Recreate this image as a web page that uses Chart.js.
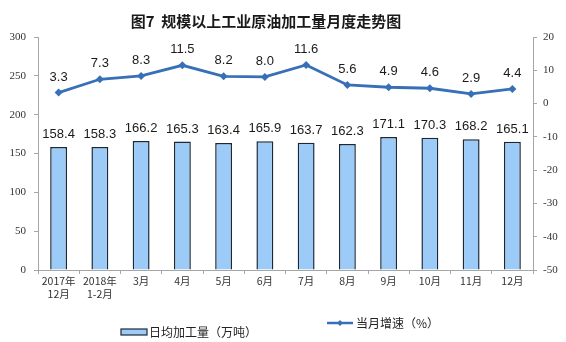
<!DOCTYPE html>
<html>
<head>
<meta charset="utf-8">
<script src="https://cdn.jsdelivr.net/npm/chart.js@4.4.0/dist/chart.umd.min.js"></script>
<style>
  html, body { margin: 0; padding: 0; background: #fff; }
  #wrap { width: 566px; height: 342px; position: relative; }
</style>
</head>
<body>
<div id="wrap"><canvas id="myChart" width="566" height="342"></canvas></div>
<script>
'use strict';

const titleText = '图7  规模以上工业原油加工量月度走势图';
const months = [['2017年', '12月'], ['2018年', '1-2月'], '3月', '4月', '5月', '6月', '7月', '8月', '9月', '10月', '11月', '12月'];
const dailyOutput = [158.4, 158.3, 166.2, 165.3, 163.4, 165.9, 163.7, 162.3, 171.1, 170.3, 168.2, 165.1];
const monthlyGrowth = [3.3, 7.3, 8.3, 11.5, 8.2, 8.0, 11.6, 5.6, 4.9, 4.6, 2.9, 4.4];
const leftTicks = [0, 50, 100, 150, 200, 250, 300];
const rightTicks = [-50, -40, -30, -20, -10, 0, 10, 20];
const barLabel = '日均加工量（万吨）';
const lineLabel = '当月增速（%）';

const barColor = '#9DCBF7',
      barBorder = '#1B2838',
      lineColor = '#3870B8',
      axisColor = '#A6A6A6';

const ctx = document.querySelector('#myChart').getContext('2d');

// title, value labels and the legend drawn by hand
const extras = {
    id: 'extras',
    afterDatasetsDraw(chart) {
        const c = chart.ctx;
        c.save();
        c.fillStyle = '#1a1a1a';
        c.font = '13px "Liberation Sans", Arial, sans-serif';
        c.textAlign = 'center';
        c.textBaseline = 'alphabetic';

        chart.getDatasetMeta(0).data.forEach((bar, i) => {
            c.fillText(dailyOutput[i].toFixed(1), bar.x, bar.y - 9);
        });
        chart.getDatasetMeta(1).data.forEach((pt, i) => {
            c.fillText(monthlyGrowth[i].toFixed(1), pt.x, pt.y - 12);
        });

        // title
        c.font = 'bold 15px "Noto Sans CJK SC", sans-serif';
        c.textBaseline = 'middle';
        c.fillText(titleText, 266, 21);

        // legend: bar
        c.textAlign = 'left';
        c.font = '12px "Noto Sans CJK SC", sans-serif';
        c.fillStyle = barColor;
        c.fillRect(121, 329, 26, 6);
        c.strokeStyle = barBorder;
        c.lineWidth = 1.2;
        c.strokeRect(121, 329, 26, 6);
        c.fillStyle = '#222';
        c.fillText(barLabel, 149, 332);

        // legend: line
        c.strokeStyle = lineColor;
        c.lineWidth = 2.5;
        c.beginPath();
        c.moveTo(327, 323);
        c.lineTo(353, 323);
        c.stroke();
        c.fillStyle = lineColor;
        c.beginPath();
        c.moveTo(340, 320); c.lineTo(343, 323); c.lineTo(340, 326); c.lineTo(337, 323);
        c.closePath();
        c.fill();
        c.fillStyle = '#222';
        c.fillText(lineLabel, 356, 323);
        c.restore();
    }
};

var myChart = new Chart(ctx, {
    type: 'bar',
    data: {
        labels: months,
        datasets: [{
            type: 'bar',
            label: barLabel,
            data: dailyOutput,
            backgroundColor: barColor,
            borderColor: barBorder,
            borderWidth: 1.5,
            barPercentage: 0.41,
            categoryPercentage: 1,
            yAxisID: 'y',
            order: 2
        }, {
            type: 'line',
            label: lineLabel,
            data: monthlyGrowth,
            borderColor: lineColor,
            backgroundColor: lineColor,
            borderWidth: 2.8,
            pointStyle: 'rectRot',
            pointRadius: 4,
            pointBackgroundColor: lineColor,
            pointBorderWidth: 0,
            tension: 0,
            yAxisID: 'y2',
            order: 1
        }]
    },
    options: {
        responsive: false,
        animation: false,
        layout: { padding: { top: 37, bottom: 36, left: 0, right: 0 } },
        plugins: {
            legend: { display: false },
            title: { display: false },
            tooltip: { enabled: false }
        },
        scales: {
            x: {
                offset: true,
                grid: { display: true, drawOnChartArea: false, drawTicks: true, tickLength: 4, offset: true, color: axisColor },
                border: { display: true, color: axisColor },
                ticks: {
                    color: '#333',
                    padding: 0,
                    maxRotation: 0,
                    autoSkip: false,
                    font: { family: '"Noto Sans CJK SC", sans-serif', size: 10.5, lineHeight: 1.3 }
                },
                afterFit(scale) { scale.height = 36; }
            },
            y: {
                position: 'left',
                min: 0,
                max: 300,
                afterBuildTicks(scale) { scale.ticks = leftTicks.map(v => ({ value: v })); },
                grid: { display: true, drawOnChartArea: false, drawTicks: true, tickLength: 4, color: axisColor },
                border: { display: true, color: axisColor },
                ticks: {
                    color: '#333',
                    padding: 8,
                    font: { family: '"Liberation Serif", serif', size: 11 }
                },
                afterFit(scale) { scale.width = 38; }
            },
            y2: {
                position: 'right',
                min: -50,
                max: 20,
                afterBuildTicks(scale) { scale.ticks = rightTicks.map(v => ({ value: v })); },
                grid: { display: true, drawOnChartArea: false, drawTicks: true, tickLength: 4, color: axisColor },
                border: { display: true, color: axisColor },
                ticks: {
                    color: '#333',
                    padding: 6,
                    font: { family: '"Liberation Serif", serif', size: 11 }
                },
                afterFit(scale) { scale.width = 33; }
            }
        }
    },
    plugins: [extras]
});
</script>
</body>
</html>
